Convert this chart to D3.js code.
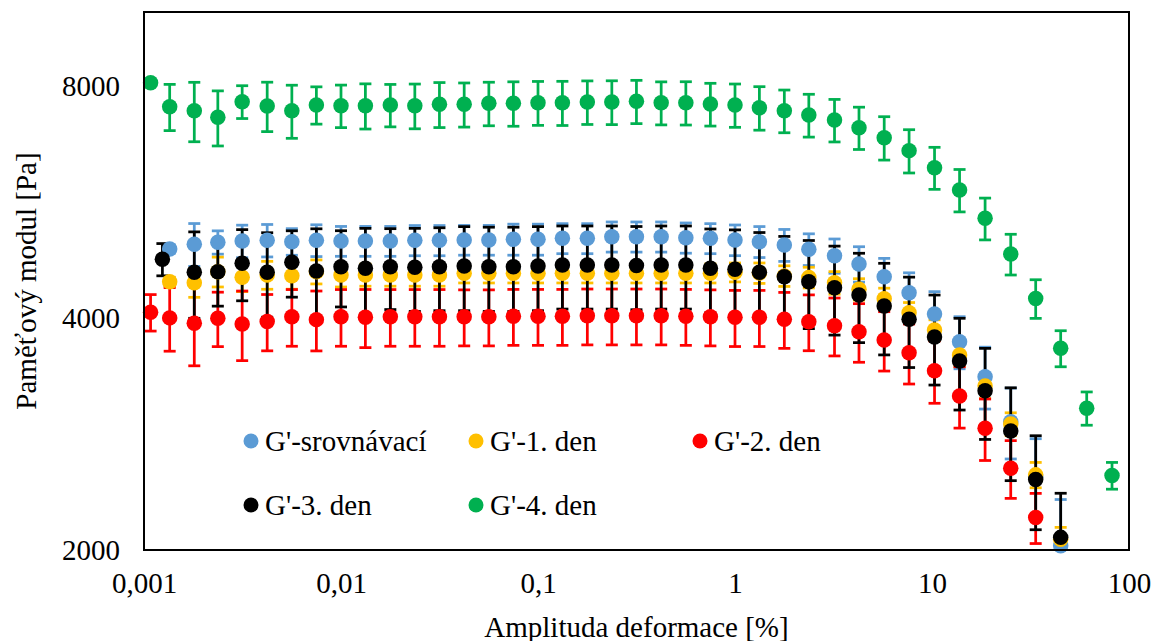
<!DOCTYPE html>
<html>
<head>
<meta charset="utf-8">
<style>
  body { margin: 0; background: #fff; }
  svg text { font-family: "Liberation Serif", "Times New Roman", serif; fill: #000; }
</style>
</head>
<body>
<script src="https://cdn.jsdelivr.net/npm/d3@7/dist/d3.min.js"></script>
<script>
// strain amplitude [%], shared by all series
var strain = [0.00108, 0.00135, 0.0018, 0.00237, 0.00315, 0.00422, 0.00563, 0.0075, 0.01, 0.0133,
              0.0178, 0.0237, 0.0316, 0.0422, 0.0563, 0.075, 0.1, 0.133, 0.178, 0.237,
              0.316, 0.422, 0.563, 0.75, 1.0, 1.33, 1.78, 2.37, 3.2, 4.26,
              5.72, 7.65, 10.3, 13.8, 18.6, 25.1, 33.6, 45, 61, 82];
// day 3 was measured from a slightly different first amplitude
var strainDay3 = strain.slice();
strainDay3[1] = 0.00124;

// storage modulus G' [Pa] and standard deviations
var gSrovnavaci = [null, 4921, 4991, 5021, 5040, 5051, 5030, 5051, 5040, 5040,
                   5040, 5051, 5051, 5056, 5056, 5066, 5066, 5081, 5081, 5106,
                   5106, 5106, 5090, 5081, 5056, 5030, 4980, 4917, 4824, 4706,
                   4530, 4318, 4052, 3729, 3359, 2936, 2490, 2026, null, null];
var sdSrovnavaci = [0, 60, 320, 175, 245, 245, 200, 240, 225, 225,
                    225, 228, 228, 225, 225, 235, 235, 228, 228, 230,
                    230, 230, 230, 228, 232, 233, 238, 233, 247, 249,
                    255, 265, 280, 290, 310, 310, 300, 300, 0, 0];

var gDen1 = [null, 4463, 4449, 4598, 4522, 4553, 4544, 4598, 4553, 4553,
             4553, 4553, 4553, 4576, 4576, 4576, 4576, 4576, 4576, 4576,
             4576, 4576, 4576, 4576, 4590, 4580, 4540, 4520, 4449, 4363,
             4242, 4068, 3862, 3584, 3266, 2915, 2504, 2065, null, null];
var sdDen1 = [0, 60, 190, 205, 190, 190, 180, 165, 160, 150,
              150, 150, 150, 130, 130, 130, 130, 130, 130, 130,
              130, 130, 130, 130, 130, 140, 140, 140, 150, 140,
              135, 125, 120, 120, 120, 100, 95, 75, 0, 0];

var gDen2 = [4072, 4005, 3940, 4000, 3932, 3962, 4019, 3984, 4019, 4012,
             4019, 4019, 4019, 4019, 4019, 4025, 4025, 4025, 4030, 4030,
             4030, 4030, 4025, 4019, 4012, 4012, 3989, 3960, 3912, 3843,
             3748, 3609, 3420, 3170, 2878, 2554, 2204, null, null, null];
var sdDen2 = [222, 380, 470, 325, 408, 333, 340, 356, 340, 348,
              340, 340, 340, 336, 336, 336, 336, 336, 336, 336,
              336, 336, 336, 336, 336, 336, 333, 330, 338, 336,
              332, 323, 318, 290, 264, 220, 165, 0, 0, 0];

var gDen3 = [null, 4772, 4590, 4598, 4715, 4590, 4729, 4608, 4668, 4645,
             4668, 4659, 4668, 4677, 4668, 4668, 4677, 4692, 4692, 4692,
             4684, 4692, 4692, 4645, 4631, 4590, 4530, 4463, 4384, 4289,
             4150, 3988, 3782, 3520, 3220, 2855, 2470, 2077, null, null];
var sdDen3 = [0, 230, 590, 450, 500, 577, 468, 620, 530, 590,
              562, 576, 576, 585, 585, 585, 585, 580, 580, 580,
              580, 580, 580, 580, 580, 580, 580, 585, 580, 570,
              565, 536, 506, 480, 436, 394, 345, 293, 0, 0];

var gDen4 = [8094, 7533, 7443, 7298, 7646, 7549, 7443, 7572, 7556, 7556,
             7572, 7556, 7587, 7587, 7610, 7610, 7624, 7624, 7640, 7640,
             7656, 7624, 7624, 7594, 7572, 7510, 7443, 7348, 7239, 7075,
             6866, 6605, 6277, 5871, 5394, 4848, 4244, 3657, 3057, 2499];
var sdDen4 = [40, 520, 660, 600, 375, 557, 590, 422, 480, 510,
              480, 505, 510, 500, 495, 505, 500, 503, 497, 500,
              495, 490, 493, 485, 490, 488, 475, 470, 460, 447,
              445, 427, 394, 372, 337, 295, 245, 197, 152, 100];

var xTicks = [0.001, 0.01, 0.1, 1, 10, 100];
var yTicks = [2000, 4000, 8000];

var series = [
  {name: "G'-srovnávací", color: "#5B9BD5", x: strain, y: gSrovnavaci, sd: sdSrovnavaci},
  {name: "G'-1. den", color: "#FFC000", x: strain, y: gDen1, sd: sdDen1},
  {name: "G'-2. den", color: "#FF0000", x: strain, y: gDen2, sd: sdDen2},
  {name: "G'-3. den", color: "#000000", x: strainDay3, y: gDen3, sd: sdDen3},
  {name: "G'-4. den", color: "#00B050", x: strain, y: gDen4, sd: sdDen4}
];
series.forEach(function(s) {
  s.points = [];
  s.y.forEach(function(v, i) {
    if (v != null) s.points.push({x: s.x[i], y: v, sd: s.sd[i], color: s.color});
  });
});

var width = 1154, height = 641;
var plotLeft = 144, plotRight = 1129, plotTop = 12, plotBottom = 550;
var fontSize = 29;

var svg = d3.select("body").append("svg")
    .attr("width", width)
    .attr("height", height);

svg.append("rect").attr("width", width).attr("height", height).attr("fill", "#fff");

var x = d3.scaleLog().domain([0.001, 100]).range([plotLeft, plotRight]);
var y = d3.scaleLog().domain([2000, 10000]).range([plotBottom, plotTop]);

svg.append("clipPath").attr("id", "plot")
  .append("rect")
    .attr("x", plotLeft).attr("y", plotTop)
    .attr("width", plotRight - plotLeft).attr("height", plotBottom - plotTop);

// axes (labels only, no tick marks)
var xAxis = svg.append("g")
    .attr("transform", "translate(0," + plotBottom + ")")
    .call(d3.axisBottom(x).tickValues(xTicks).tickSize(0).tickPadding(22)
      .tickFormat(function(d) { return String(d).replace(".", ","); }));
xAxis.select(".domain").remove();
xAxis.attr("font-family", null).attr("font-size", null);
xAxis.selectAll("text").attr("font-size", fontSize);

var yAxis = svg.append("g")
    .attr("transform", "translate(" + plotLeft + ",0)")
    .call(d3.axisLeft(y).tickValues(yTicks).tickSize(0).tickPadding(24)
      .tickFormat(d3.format("d")));
yAxis.select(".domain").remove();
yAxis.attr("font-family", null).attr("font-size", null);
yAxis.selectAll("text").attr("font-size", fontSize);

// error bars for all series first, then markers
var bars = svg.append("g").attr("clip-path", "url(#plot)");
series.forEach(function(s) {
  var g = bars.append("g")
      .attr("stroke", s.color)
      .attr("stroke-width", 2.75);
  var eb = g.selectAll("g").data(s.points.filter(function(d) { return d.sd > 0; }))
    .enter().append("g");
  eb.append("line")
      .attr("x1", function(d) { return x(d.x); })
      .attr("x2", function(d) { return x(d.x); })
      .attr("y1", function(d) { return y(d.y + d.sd); })
      .attr("y2", function(d) { return y(d.y - d.sd); });
  eb.append("line")
      .attr("x1", function(d) { return x(d.x) - 6; })
      .attr("x2", function(d) { return x(d.x) + 6; })
      .attr("y1", function(d) { return y(d.y + d.sd); })
      .attr("y2", function(d) { return y(d.y + d.sd); });
  eb.append("line")
      .attr("x1", function(d) { return x(d.x) - 6; })
      .attr("x2", function(d) { return x(d.x) + 6; })
      .attr("y1", function(d) { return y(d.y - d.sd); })
      .attr("y2", function(d) { return y(d.y - d.sd); });
});

series.forEach(function(s) {
  svg.append("g").selectAll("circle").data(s.points)
    .enter().append("circle")
      .attr("cx", function(d) { return x(d.x); })
      .attr("cy", function(d) { return y(d.y); })
      .attr("r", 7.75)
      .attr("fill", s.color);
});

// frame
svg.append("rect")
    .attr("x", plotLeft).attr("y", plotTop)
    .attr("width", plotRight - plotLeft).attr("height", plotBottom - plotTop)
    .attr("fill", "none")
    .attr("stroke", "#000")
    .attr("stroke-width", 2);

// legend
var legendPos = [[251, 441], [476, 441], [700, 441], [251, 505], [476, 505]];
var legend = svg.append("g").selectAll("g").data(series)
  .enter().append("g")
    .attr("transform", function(d, i) { return "translate(" + legendPos[i][0] + "," + legendPos[i][1] + ")"; });
legend.append("circle").attr("r", 7.5).attr("fill", function(d) { return d.color; });
legend.append("text")
    .attr("x", 14)
    .attr("dy", "0.34em")
    .attr("font-size", fontSize)
    .text(function(d) { return d.name; });

// axis titles
svg.append("text")
    .attr("x", (plotLeft + plotRight) / 2)
    .attr("y", 637)
    .attr("text-anchor", "middle")
    .attr("font-size", fontSize)
    .text("Amplituda deformace [%]");

svg.append("text")
    .attr("transform", "translate(36," + ((plotTop + plotBottom) / 2) + ") rotate(-90)")
    .attr("text-anchor", "middle")
    .attr("font-size", fontSize)
    .text("Paměťový modul [Pa]");
</script>
</body>
</html>
